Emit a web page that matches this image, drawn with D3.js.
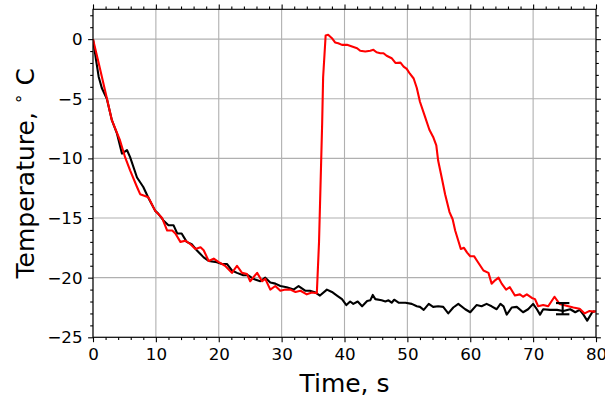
<!DOCTYPE html>
<html>
<head>
<meta charset="utf-8">
<script src="https://cdn.jsdelivr.net/npm/d3@7"></script>
<style>
  html, body { margin: 0; padding: 0; background: #fff; }
  svg { display: block; font-family: "DejaVu Sans", sans-serif; }
</style>
</head>
<body>
<svg id="chart" width="605" height="404"></svg>
<script>
// ---- data ----
const blackTime = [0,0.5,0.9,1.4,2.2,3.0,3.8,4.6,5.4,5.9,7.0,8.0,8.8,9.9,10.4,11.2,12.0,12.8,13.4,14.1,14.9,15.7,16.5,17.6,18.4,19.7,20.5,21.3,22.1,22.9,23.9,24.7,25.5,26.6,27.4,28.2,29.0,29.8,30.8,31.9,32.7,33.8,34.5,35.4,36.1,37.2,38.0,38.8,39.6,40.3,40.9,41.4,42.1,42.8,43.6,44.1,44.5,44.9,45.9,46.5,47.0,47.5,47.9,48.6,49.7,50.7,51.5,52.0,52.6,53.4,54.1,54.9,55.7,56.5,57.3,58.1,59.2,60.0,61.0,61.8,62.6,63.4,64.2,64.8,65.3,65.8,66.6,67.4,68.4,69.2,70.0,70.6,71.1,71.6,72.7,73.8,74.8,75.9,76.7,77.4,78.0,78.6,79.4,79.8];
const blackTemp = [0,-1.8,-3.15,-4.1,-5.0,-6.8,-7.9,-9.6,-9.3,-9.9,-11.6,-12.4,-13.3,-14.4,-14.65,-15.2,-15.6,-15.6,-16.3,-16.3,-17.0,-17.2,-17.7,-18.3,-18.6,-18.7,-18.85,-18.85,-19.4,-19.6,-19.8,-19.8,-20.1,-20.3,-20.0,-20.4,-20.5,-20.7,-20.8,-21.0,-20.7,-21.1,-21.1,-21.25,-21.5,-21.0,-21.2,-21.5,-21.8,-22.3,-22.0,-22.2,-22.0,-22.4,-21.95,-21.9,-21.45,-21.8,-21.9,-22.0,-21.9,-22.1,-21.85,-22.1,-22.1,-22.2,-22.4,-22.45,-22.7,-22.2,-22.45,-22.4,-22.45,-23.0,-22.5,-22.2,-22.65,-22.9,-22.3,-22.4,-22.2,-22.4,-22.65,-22.2,-22.4,-23.1,-22.5,-22.45,-22.9,-22.65,-22.2,-22.65,-23.1,-22.65,-22.7,-22.7,-22.8,-22.65,-22.9,-22.7,-23.1,-23.6,-22.9,-22.8];

const redTime = [0,0.9,2.0,3.0,4.3,5.1,5.9,7.0,7.5,8.8,9.9,11.0,11.8,12.6,13.1,13.9,14.7,15.5,16.3,17.1,17.6,18.4,19.2,20.0,21.0,22.1,22.9,23.7,24.5,25.0,26.1,26.9,27.4,28.2,29.0,29.8,30.6,31.4,32.2,33.0,34.0,34.8,35.6,35.95,36.45,36.6,37.0,37.4,38.0,38.5,39.0,39.6,40.4,41.2,42.0,42.5,43.3,44.1,44.6,45.1,45.7,46.2,46.7,47.5,48.1,48.9,49.4,49.9,50.4,51.0,51.5,52.0,52.8,53.5,54.1,54.6,54.9,55.5,56.0,56.7,57.2,57.6,58.1,58.5,59.0,59.5,60.0,60.6,61.1,61.6,62.1,62.9,63.4,64.0,64.5,65.0,65.7,66.3,67.1,67.9,68.4,69.0,69.8,70.3,70.8,71.6,72.4,73.4,74.2,75.3,76.4,77.4,78.2,78.9,79.7,80.0];
const redTemp = [0,-2.0,-4.5,-6.8,-8.5,-9.9,-11.0,-12.4,-13.0,-13.25,-14.4,-15.0,-16.05,-16.05,-16.3,-17.0,-16.9,-17.2,-17.6,-17.45,-17.7,-18.6,-18.4,-18.7,-19.0,-19.6,-19.0,-19.6,-19.7,-20.3,-19.6,-20.3,-20.1,-21.0,-20.7,-21.1,-21.0,-21.0,-21.2,-21.1,-21.4,-21.25,-21.3,-17.0,-7.0,-3.2,0.3,0.36,0.08,-0.28,-0.34,-0.48,-0.48,-0.62,-0.76,-0.98,-1.04,-0.98,-0.9,-1.1,-1.18,-1.18,-1.4,-1.6,-2.0,-1.97,-2.3,-2.5,-2.9,-3.3,-4.1,-5.25,-6.5,-7.6,-8.2,-8.9,-10.2,-11.7,-13.0,-14.5,-15.1,-16.05,-16.9,-17.6,-17.5,-17.9,-18.2,-18.2,-18.6,-19.0,-19.4,-19.6,-20.5,-20.2,-20.0,-20.5,-21.0,-20.8,-21.5,-21.4,-21.6,-21.4,-21.7,-21.8,-22.4,-22.3,-22.4,-21.6,-22.2,-22.35,-22.5,-22.6,-23.0,-22.8,-22.85,-22.8];

const errTime = [74.7];
const errTemp = [-22.6];
const errSize = [0.47];

const xTicks = [0,10,20,30,40,50,60,70,80];
const yTicks = [0,-5,-10,-15,-20,-25];
const xLabel = "Time, s";

// ---- layout ----
const svg = d3.select("#chart");
const L = 93, R = 596, T = 9.3, B = 337.3;
const x = d3.scaleLinear().domain([0, 80]).range([L, R]);
const y = d3.scaleLinear().domain([-25, 2.5]).range([B, T]);
const xMinor = d3.range(0, 81, 2).filter(v => v % 10 !== 0);
const yMinor = d3.range(-25, 3, 1).filter(v => v % 5 !== 0);

// grid
const grid = svg.append("g").attr("stroke", "#b0b0b0").attr("stroke-width", 1.1);
grid.selectAll(".gx").data(xTicks).join("line")
  .attr("x1", d => x(d)).attr("x2", d => x(d)).attr("y1", T).attr("y2", B);
grid.selectAll(".gy").data(yTicks).join("line")
  .attr("y1", d => y(d)).attr("y2", d => y(d)).attr("x1", L).attr("x2", R);

// lines
const clip = svg.append("clipPath").attr("id", "clip").append("rect")
  .attr("x", L).attr("y", T).attr("width", R - L).attr("height", B - T);
const line = d3.line().x(d => x(d[0])).y(d => y(d[1]));
const plot = svg.append("g").attr("clip-path", "url(#clip)");
plot.append("path").datum(blackTime.map((t, i) => [t, blackTemp[i]]))
  .attr("d", line).attr("fill", "none").attr("stroke", "#000").attr("stroke-width", 2.1)
  .attr("stroke-linejoin", "round");
plot.append("path").datum(redTime.map((t, i) => [t, redTemp[i]]))
  .attr("d", line).attr("fill", "none").attr("stroke", "#ff0000").attr("stroke-width", 2.1)
  .attr("stroke-linejoin", "round");

// error bar
const eb = svg.append("g").attr("stroke", "#000").attr("stroke-width", 2.1);
errTime.forEach((t, i) => {
  const cx = x(t), y1 = y(errTemp[i] + errSize[i]), y2 = y(errTemp[i] - errSize[i]);
  eb.append("line").attr("x1", cx).attr("x2", cx).attr("y1", y1).attr("y2", y2);
  eb.append("line").attr("x1", cx - 6.7).attr("x2", cx + 6.7).attr("y1", y1).attr("y2", y1);
  eb.append("line").attr("x1", cx - 6.7).attr("x2", cx + 6.7).attr("y1", y2).attr("y2", y2);
});

// axes
const fmt = d => d3.format("d")(d);
function styleAxis(g) {
  g.select(".domain").remove();
  g.selectAll("line").attr("stroke", "#000").attr("stroke-width", 1.1);
  g.selectAll("text").attr("fill", "#000").style("font-size", "16.7px")
    .style("font-family", "'DejaVu Sans', sans-serif");
}
// bottom
svg.append("g").attr("transform", `translate(0,${B})`)
  .call(d3.axisBottom(x).tickValues(xTicks).tickFormat(fmt).tickSize(4.9).tickPadding(6))
  .call(styleAxis);
svg.append("g").attr("transform", `translate(0,${B})`)
  .call(d3.axisBottom(x).tickValues(xMinor).tickFormat("").tickSize(2.8)).call(styleAxis);
// top
svg.append("g").attr("transform", `translate(0,${T})`)
  .call(d3.axisTop(x).tickValues(xTicks).tickFormat("").tickSize(4.9)).call(styleAxis);
svg.append("g").attr("transform", `translate(0,${T})`)
  .call(d3.axisTop(x).tickValues(xMinor).tickFormat("").tickSize(2.8)).call(styleAxis);
// left
svg.append("g").attr("transform", `translate(${L},0)`)
  .call(d3.axisLeft(y).tickValues(yTicks).tickFormat(d3.format("d")).tickSize(4.9).tickPadding(5.5))
  .call(styleAxis);
svg.append("g").attr("transform", `translate(${L},0)`)
  .call(d3.axisLeft(y).tickValues(yMinor).tickFormat("").tickSize(2.8)).call(styleAxis);
// right
svg.append("g").attr("transform", `translate(${R},0)`)
  .call(d3.axisRight(y).tickValues(yTicks).tickFormat("").tickSize(4.9)).call(styleAxis);
svg.append("g").attr("transform", `translate(${R},0)`)
  .call(d3.axisRight(y).tickValues(yMinor).tickFormat("").tickSize(2.8)).call(styleAxis);

// frame
svg.append("rect").attr("x", L).attr("y", T).attr("width", R - L).attr("height", B - T)
  .attr("fill", "none").attr("stroke", "#000").attr("stroke-width", 1.1);

// axis labels
svg.append("text").attr("x", (L + R) / 2).attr("y", 392).attr("text-anchor", "middle")
  .style("font-size", "25px").text(xLabel);
const yl = svg.append("text").attr("transform", `translate(34,${(T + B) / 2}) rotate(-90)`)
  .attr("text-anchor", "middle").style("font-size", "25px");
yl.append("tspan").text("Temperature, ");
yl.append("tspan").attr("baseline-shift", "super").style("font-size", "17px").text("∘");
yl.append("tspan").text(" C");
</script>
</body>
</html>
